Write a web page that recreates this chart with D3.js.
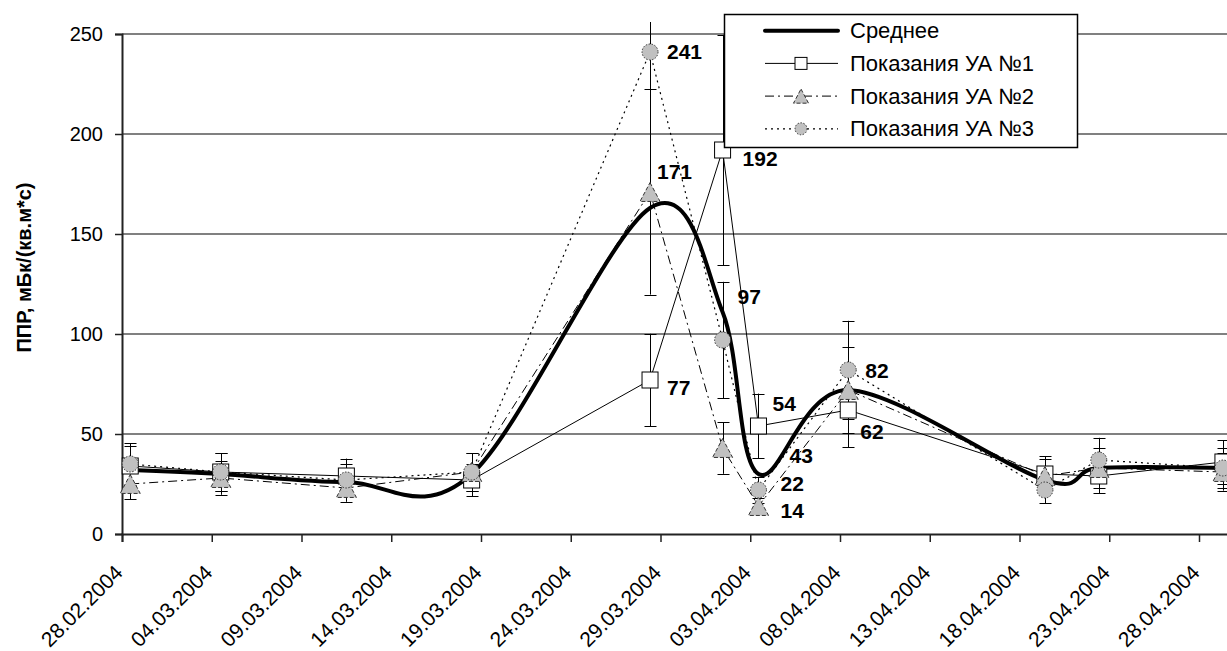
<!DOCTYPE html>
<html>
<head>
<meta charset="utf-8">
<script src="https://cdn.jsdelivr.net/npm/d3@7"></script>
<style>
  body { margin: 0; background: #fff; }
  text { font-family: Arial, "Liberation Sans", sans-serif; fill: #000; }
</style>
</head>
<body>
<div id="chart"></div>
<script>
// measurement times (UTC)
const dates = [
  "2004-02-28T11:00", "2004-03-04T12:00", "2004-03-11T12:00", "2004-03-18T11:30",
  "2004-03-28T10:00", "2004-04-01T11:00", "2004-04-03T11:00", "2004-04-08T11:00",
  "2004-04-19T10:00", "2004-04-22T10:00", "2004-04-29T08:00"
];
const meanValues = [32, 30, 26, 30, 163, 111, 30, 72, 27, 33, 33];
const ua1Values = [34, 31, 29, 27, 77, 192, 54, 62, 30, 29, 36];
const ua2Values = [25, 28, 23, 31, 171, 43, 14, 72, 29, 33, 31];
const ua3Values = [35, 31, 27, 31, 241, 97, 22, 82, 22, 37, 33];

const seriesNames = ["Среднее", "Показания УА №1", "Показания УА №2", "Показания УА №3"];
const tickLabels = ["28.02.2004", "04.03.2004", "09.03.2004", "14.03.2004", "19.03.2004",
  "24.03.2004", "29.03.2004", "03.04.2004", "08.04.2004", "13.04.2004", "18.04.2004",
  "23.04.2004", "28.04.2004"];
const yTicks = [0, 50, 100, 150, 200, 250];
const yTitle = "ППР, мБк/(кв.м*с)";
const errorShare = 0.3; // +-30% error bars

// which points carry a data label: [series, point]
const labelledPoints = [[3, 4], [2, 4], [1, 4], [1, 5], [3, 5], [2, 5], [1, 6], [3, 6], [2, 6], [3, 7], [1, 7]];
// manual label placement (dx from point, dy of label centre)
const labelPlacement = [[17, -1], [7, -21], [17, 7], [20, 8], [15, -44], [67, 7], [14, -23], [22, -7], [22, 4], [17, 0], [12, 21]];

const W = 1227, H = 651;
const margin = { left: 122, top: 34, bottom: 117 };

const parseDate = d3.utcParse("%Y-%m-%dT%H:%M");
const parseTick = d3.utcParse("%d.%m.%Y");
const pxPerDay = 17.95;
const xStart = parseTick("28.02.2004");
const xEnd = parseTick("01.05.2004");

const x = d3.scaleUtc()
  .domain([xStart, xEnd])
  .range([margin.left, margin.left + 63 * pxPerDay]);
const y = d3.scaleLinear()
  .domain([0, 250])
  .range([H - margin.bottom, margin.top]);

const svg = d3.select("#chart").append("svg")
  .attr("width", W)
  .attr("height", H);

svg.append("defs").append("clipPath").attr("id", "plotClip")
  .append("rect")
  .attr("x", margin.left).attr("y", 22)
  .attr("width", W - margin.left).attr("height", y(0) - 22 + 10);

// gridlines
svg.append("g").selectAll("line")
  .data(yTicks.filter(d => d > 0))
  .enter().append("line")
  .attr("x1", margin.left).attr("x2", W)
  .attr("y1", d => y(d)).attr("y2", d => y(d))
  .attr("stroke", "#808080")
  .attr("stroke-width", 2);

// y axis
let yAxis = svg.append("g")
  .attr("transform", `translate(${margin.left},0)`)
  .call(d3.axisLeft(y).tickValues(yTicks).tickSize(7).tickPadding(12));
yAxis.select(".domain").attr("stroke", "#222").attr("stroke-width", 2);
yAxis.selectAll(".tick line").attr("stroke", "#222").attr("stroke-width", 1.5);
yAxis.selectAll(".tick text")
  .style("font-family", "Arial, 'Liberation Sans', sans-serif")
  .style("font-size", "20px");

// x axis
let xAxis = svg.append("g")
  .attr("transform", `translate(0,${y(0)})`)
  .call(d3.axisBottom(x).tickValues(tickLabels.map(parseTick)).tickSize(8).tickFormat(""));
xAxis.select(".domain").attr("stroke", "#222").attr("stroke-width", 2);
xAxis.selectAll(".tick line").attr("stroke", "#222").attr("stroke-width", 1.5);

svg.append("g").selectAll("text")
  .data(tickLabels)
  .enter().append("text")
  .attr("transform", d => `translate(${x(parseTick(d)) + 2},${y(0) + 40}) rotate(-45)`)
  .attr("text-anchor", "end")
  .style("font-size", "21px")
  .text(d => d);

// y title
svg.append("text")
  .attr("transform", `translate(31,${(182 + 353) / 2}) rotate(-90)`)
  .attr("text-anchor", "middle")
  .style("font-size", "20px")
  .style("font-weight", "bold")
  .text(yTitle);

const times = dates.map(parseDate);
const series = [meanValues, ua1Values, ua2Values, ua3Values];
const dashes = [null, null, "9,4,2,4", "2,4"];
const widths = [4, 1, 1, 1.2];

// lines
series.forEach((vals, i) => {
  let line = d3.line()
    .x((d, j) => x(times[j]))
    .y(d => y(d));
  if (i === 0) line.curve(d3.curveCatmullRom.alpha(0));
  svg.append("path")
    .datum(vals)
    .attr("d", line)
    .attr("fill", "none")
    .attr("stroke", "#000")
    .attr("stroke-width", widths[i])
    .attr("stroke-dasharray", dashes[i])
    .attr("stroke-linejoin", "round")
    .attr("stroke-linecap", i === 0 ? "round" : "butt");
});

// error bars
let errGroup = svg.append("g").attr("clip-path", "url(#plotClip)");
series.slice(1).forEach(vals => {
  let g = errGroup.append("g");
  vals.forEach((v, j) => {
    let cx = Math.round(x(times[j])) + 0.5;
    let hi = y(v * (1 + errorShare)), lo = y(v * (1 - errorShare));
    g.append("line").attr("x1", cx).attr("x2", cx).attr("y1", hi).attr("y2", lo)
      .attr("stroke", "#000").attr("stroke-width", 1);
    [hi, lo].forEach(yy => {
      g.append("line").attr("x1", cx - 6).attr("x2", cx + 6)
        .attr("y1", Math.round(yy) + 0.5).attr("y2", Math.round(yy) + 0.5)
        .attr("stroke", "#000").attr("stroke-width", 1);
    });
  });
});

// markers
function drawMarker(g, kind, cx, cy, s) {
  if (kind === 1) {
    g.append("rect")
      .attr("x", cx - s / 2).attr("y", cy - s / 2)
      .attr("width", s).attr("height", s)
      .attr("fill", "#fff").attr("stroke", "#000").attr("stroke-width", 1);
  } else if (kind === 2) {
    let h = s * 1.18, w = s * 1.25;
    g.append("path")
      .attr("d", `M${cx},${cy - h / 2}L${cx + w / 2},${cy + h / 2}L${cx - w / 2},${cy + h / 2}Z`)
      .attr("fill", "#c0c0c0").attr("stroke", "#333").attr("stroke-width", 1)
      .attr("stroke-dasharray", "4,2");
  } else if (kind === 3) {
    g.append("circle")
      .attr("cx", cx).attr("cy", cy).attr("r", s / 2)
      .attr("fill", "#c0c0c0").attr("stroke", "#333").attr("stroke-width", 1)
      .attr("stroke-dasharray", "1.5,1.5");
  }
}

let markGroup = svg.append("g");
series.forEach((vals, i) => {
  if (i === 0) return;
  vals.forEach((v, j) => drawMarker(markGroup, i, x(times[j]), y(v), 16));
});

// data labels
svg.append("g").selectAll("text")
  .data(labelledPoints)
  .enter().append("text")
  .attr("x", (d, k) => x(times[d[1]]) + labelPlacement[k][0])
  .attr("y", (d, k) => y(series[d[0]][d[1]]) + labelPlacement[k][1] + 7.5)
  .style("font-size", "21px")
  .style("font-weight", "bold")
  .text(d => series[d[0]][d[1]]);

// legend
let legend = svg.append("g");
legend.append("rect")
  .attr("x", 724.5).attr("y", 14.5)
  .attr("width", 353).attr("height", 133)
  .attr("fill", "#fff").attr("stroke", "#000").attr("stroke-width", 1.5);

seriesNames.forEach((name, i) => {
  let ly = 30.7 + i * 32.7;
  legend.append("line")
    .attr("x1", 765).attr("x2", 838).attr("y1", ly).attr("y2", ly)
    .attr("stroke", "#000")
    .attr("stroke-width", widths[i])
    .attr("stroke-dasharray", dashes[i])
    .attr("stroke-linecap", i === 0 ? "round" : "butt");
  if (i > 0) drawMarker(legend, i, 801, ly, 12);
  legend.append("text")
    .attr("x", 850).attr("y", ly + 7.5)
    .style("font-size", "22px")
    .text(name);
});
</script>
</body>
</html>
